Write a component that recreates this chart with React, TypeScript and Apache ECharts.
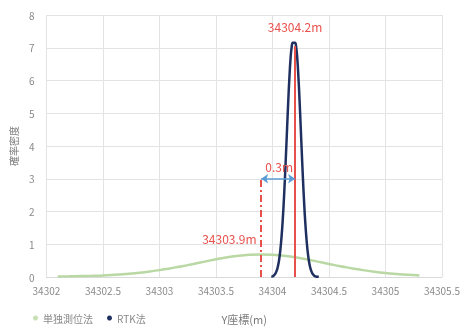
import React, { useEffect, useRef } from "react";
import * as echarts from "echarts";

const xTicks = { min: 34302, max: 34305.5, interval: 0.5 };
const yTicks = { min: 0, max: 8, interval: 1 };

const singleX = [
  34302.1, 34302.2, 34302.3, 34302.4, 34302.5, 34302.6, 34302.7, 34302.8, 34302.9, 34303.0,
  34303.1, 34303.2, 34303.3, 34303.4, 34303.5, 34303.6, 34303.7, 34303.8, 34303.9, 34304.0,
  34304.1, 34304.2, 34304.3, 34304.4, 34304.5, 34304.6, 34304.7, 34304.8, 34304.9, 34305.0,
  34305.1, 34305.2, 34305.3,
];
const singleY = [
  0.018, 0.022, 0.028, 0.035, 0.045, 0.065, 0.09, 0.12, 0.16, 0.21,
  0.27, 0.33, 0.40, 0.47, 0.54, 0.60, 0.65, 0.68, 0.69, 0.68,
  0.65, 0.60, 0.54, 0.47, 0.40, 0.33, 0.27, 0.21, 0.16, 0.12,
  0.09, 0.065, 0.045,
];

const rtkX = [
  34303.99, 34304.0, 34304.01, 34304.02, 34304.03, 34304.04, 34304.05, 34304.06, 34304.07, 34304.08,
  34304.09, 34304.1, 34304.11, 34304.12, 34304.13, 34304.14, 34304.15, 34304.16, 34304.17, 34304.18,
  34304.19, 34304.2, 34304.21, 34304.22, 34304.23, 34304.24, 34304.25, 34304.26, 34304.27, 34304.28,
  34304.29, 34304.3, 34304.31, 34304.32, 34304.33, 34304.34, 34304.35, 34304.36, 34304.37, 34304.38,
  34304.39, 34304.4, 34304.41,
];
const rtkY = [
  0.01, 0.02, 0.04, 0.075, 0.13, 0.22, 0.35, 0.55, 0.83, 1.21,
  1.69, 2.29, 2.99, 3.77, 4.58, 5.38, 6.09, 6.66, 7.02, 7.15,
  7.15, 7.15, 7.02, 6.66, 6.09, 5.38, 4.58, 3.77, 2.99, 2.29,
  1.69, 1.21, 0.83, 0.55, 0.35, 0.22, 0.13, 0.075, 0.04, 0.02,
  0.01, 0.008, 0.005,
];

const seriesNames = ["単独測位法", "RTK法"];
const rtkMean = 34304.2;
const singleMean = 34303.9;
const rtkLineTop = 7.05;
const arrowLevel = 3;
const labels = { rtk: "34304.2m", single: "34303.9m", diff: "0.3m" };
const axisNames = { x: "Y座標(m)", y: "確率密度" };

const FONT = "'Noto Sans CJK JP', 'Noto Sans', sans-serif";
const RED = "#e8504c";

export default function App() {
  const ref = useRef<HTMLDivElement>(null);
  useEffect(() => {
    if (!ref.current) return;
    const chart = echarts.init(ref.current, undefined, { renderer: "svg" });
    chart.setOption({
      animation: false,
      textStyle: { fontFamily: FONT },
      grid: { left: 43, right: 14, top: 15, bottom: 41 },
      legend: {
        left: 28,
        top: 308,
        icon: "circle",
        itemWidth: 5,
        itemHeight: 5,
        itemGap: 14,
        textStyle: { color: "#8a8a8a", fontSize: 10, fontFamily: FONT },
        data: seriesNames,
      },
      xAxis: {
        type: "value",
        min: xTicks.min,
        max: xTicks.max,
        interval: xTicks.interval,
        name: axisNames.x,
        nameLocation: "middle",
        nameGap: 36,
        nameTextStyle: { color: "#7a7a7a", fontSize: 11, fontFamily: FONT },
        axisLine: { lineStyle: { color: "#d9d9d9" } },
        axisTick: { show: false },
        axisLabel: { color: "#8a8a8a", fontSize: 10, margin: 8, formatter: (v: number) => String(v) },
        splitLine: { lineStyle: { color: "#e3e3e3" } },
      },
      yAxis: {
        type: "value",
        min: yTicks.min,
        max: yTicks.max,
        interval: yTicks.interval,
        name: axisNames.y,
        nameLocation: "middle",
        nameRotate: 90,
        nameGap: 26,
        nameTextStyle: { color: "#7a7a7a", fontSize: 10, fontFamily: FONT },
        axisLine: { show: false },
        axisTick: { show: false },
        axisLabel: { color: "#8a8a8a", fontSize: 10, margin: 12 },
        splitLine: { lineStyle: { color: "#e3e3e3" } },
      },
      series: [
        {
          name: seriesNames[0],
          type: "line",
          data: singleX.map((x, i) => [x, singleY[i]]),
          smooth: true,
          showSymbol: false,
          itemStyle: { color: "#c8e0b4" },
          lineStyle: { color: "#b9d8a3", width: 2.5 },
          z: 2,
        },
        {
          name: seriesNames[1],
          type: "line",
          data: rtkX.map((x, i) => [x, rtkY[i]]),
          smooth: true,
          showSymbol: false,
          itemStyle: { color: "#1f3060" },
          lineStyle: { color: "#1f3060", width: 2.5 },
          z: 3,
          markLine: {
            silent: true,
            symbol: "none",
            label: { show: false },
            data: [
              [
                { coord: [rtkMean, 0], lineStyle: { color: RED, width: 2, type: "solid" } },
                { coord: [rtkMean, rtkLineTop] },
              ],
              [
                { coord: [singleMean, 0], lineStyle: { color: RED, width: 2, type: [7, 3, 2, 3] } },
                { coord: [singleMean, arrowLevel] },
              ],
              [
                {
                  coord: [singleMean, arrowLevel],
                  symbol: "arrow",
                  symbolSize: 7,
                  lineStyle: { color: "#5b9bd5", width: 1.5, type: "solid" },
                },
                { coord: [rtkMean, arrowLevel], symbol: "arrow", symbolSize: 7 },
              ],
            ],
          },
          markPoint: {
            silent: true,
            symbol: "circle",
            symbolSize: 0,
            data: [
              {
                coord: [rtkMean, 7.65],
                label: { show: true, position: "inside", formatter: labels.rtk, color: RED, fontSize: 12 },
              },
              {
                coord: [34304.06, 3.37],
                label: { show: true, position: "inside", formatter: labels.diff, color: RED, fontSize: 12 },
              },
              {
                coord: [34303.86, 1.17],
                label: { show: true, position: "left", distance: 0, formatter: labels.single, color: RED, fontSize: 12 },
              },
            ],
          },
        },
      ],
    });
    return () => chart.dispose();
  }, []);
  return (
    <div
      ref={ref}
      style={{ position: "fixed", left: 0, top: 0, width: 463, height: 329, overflow: "hidden" }}
    />
  );
}
